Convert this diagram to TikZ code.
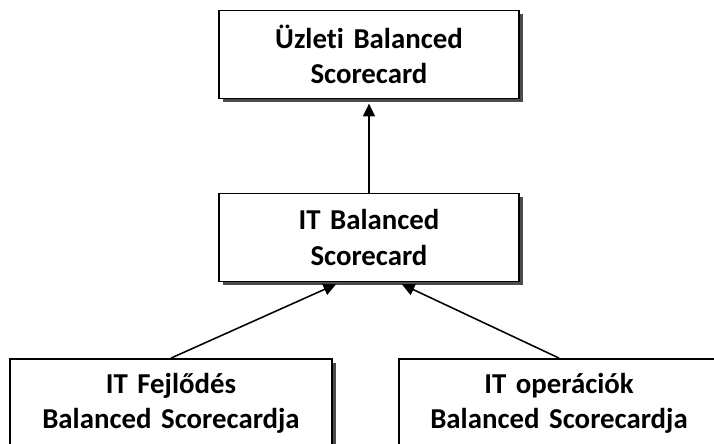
\documentclass[tikz,border=0pt]{standalone}
\usepackage{fontspec}
\setmainfont[Ligatures={NoCommon}]{Carlito}
\usepackage{tikz}
\usetikzlibrary{shapes.geometric, arrows.meta, shadows, calc}
\tikzstyle{card} = [rectangle, minimum width=7.5cm, minimum height=2.2cm, text width=7cm, align=center, draw=black, line width=1.3pt, fill=white, drop shadow={shadow xshift=0.09cm, shadow yshift=-0.09cm, fill=black!70, opacity=1}, font=\fontsize{20.5}{25}\selectfont\bfseries]
\tikzstyle{arrow} = [line width=1.1pt, -{Triangle[length=9pt,width=8.5pt]}, shorten >=3pt]

\begin{document}
\begin{tikzpicture}[x=0.025cm, y=-0.025cm]
\useasboundingbox [fill=white] (0,0) rectangle (714,443);
\node (uzleti) [card] at (369,54.5) {Üzleti Balanced\\Scorecard};
\node (itbsc) [card] at (369,237.5) {IT Balanced\\Scorecard};
\node (fejl) [card, minimum width=8.05cm] at (171,403) {IT Fejlődés\\Balanced Scorecardja};
\node (oper) [card, minimum width=8cm] at (559,403) {IT operációk\\Balanced Scorecardja};
\draw [arrow] (itbsc) -- (uzleti);
\draw [arrow] (fejl.north) -- ($(itbsc.south)+(-29,0)$);
\draw [arrow] (oper.north) -- ($(itbsc.south)+(29,0)$);
\end{tikzpicture}
\end{document}
